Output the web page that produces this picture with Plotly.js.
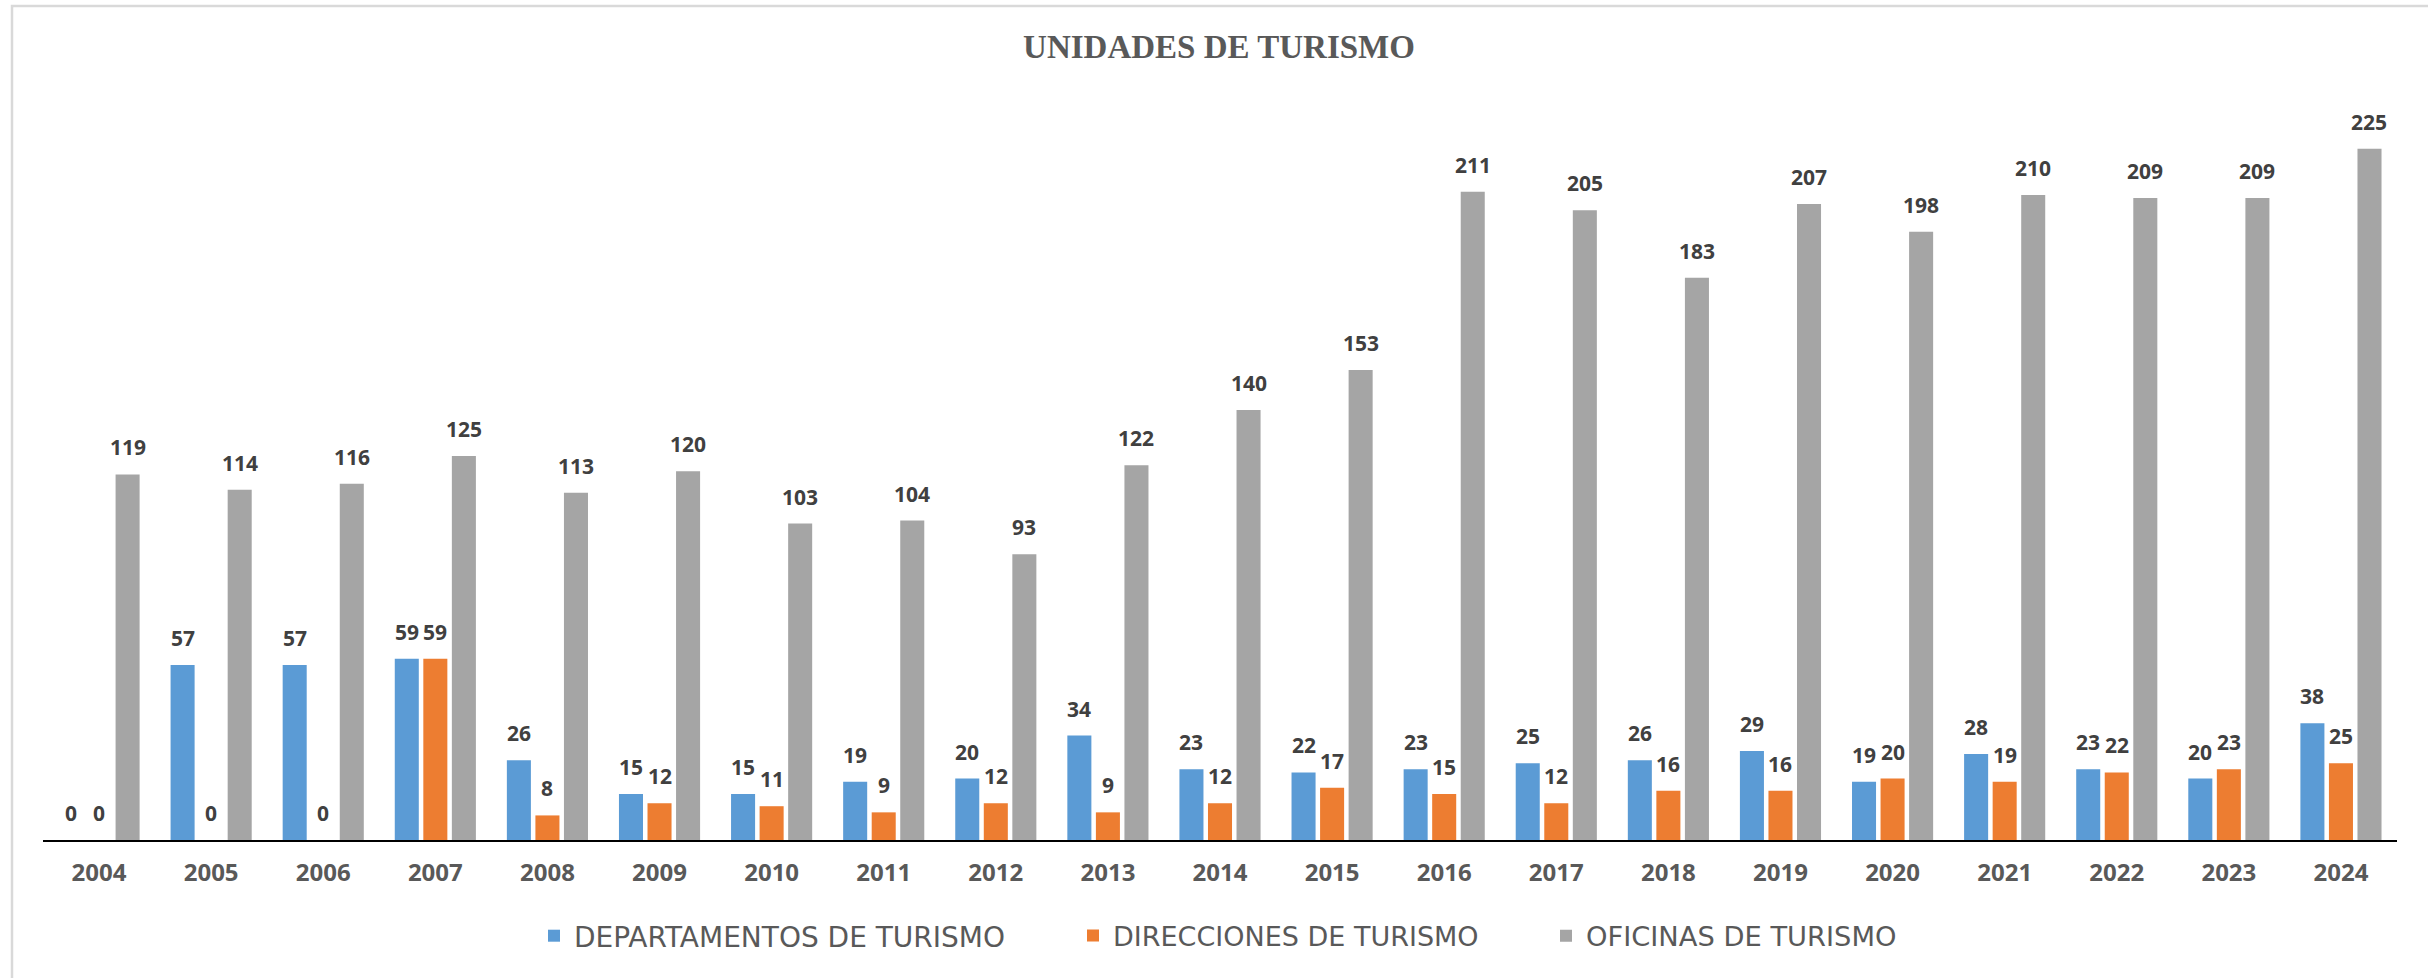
<!DOCTYPE html>
<html>
<head>
<meta charset="utf-8">
<script src="https://cdn.plot.ly/plotly-3.0.1.min.js"></script>
<style>
  html, body { margin: 0; padding: 0; background: #ffffff; }
  #chart { width: 2428px; height: 978px; }
</style>
</head>
<body>
<div id="chart"></div>
<script>
// ---- data ----
const years = ["2004","2005","2006","2007","2008","2009","2010","2011","2012","2013","2014",
               "2015","2016","2017","2018","2019","2020","2021","2022","2023","2024"];
const departamentos = [0,57,57,59,26,15,15,19,20,34,23,22,23,25,26,29,19,28,23,20,38];
const direcciones  = [0,0,0,59,8,12,11,9,12,9,12,17,15,12,16,16,20,19,22,23,25];
const oficinas     = [119,114,116,125,113,120,103,104,93,122,140,153,211,205,183,207,198,210,209,209,225];
const seriesNames  = ["DEPARTAMENTOS DE TURISMO","DIRECCIONES DE TURISMO","OFICINAS DE TURISMO"];
const seriesColors = ["#5B9BD5","#ED7D31","#A5A5A5"];
const chartTitle   = "UNIDADES DE TURISMO";

// ---- layout constants ----
const W = 2428, H = 978;
const M = {l: 43, r: 31, t: 72, b: 138};
const plotW = W - M.l - M.r;
const plotH = H - M.t - M.b;
const BARGAP = 0.236, GROUPGAP = 0.158;
const catW = plotW / years.length;
const slot = catW * (1 - BARGAP) / 3;
const legendIds = ["legend", "legend2", "legend3"];
const legendLeftPx = [534, 1073, 1546];
const legendFontSize = [28, 27, 27.3];

const allSeries = [departamentos, direcciones, oficinas];
const traces = allSeries.map((vals, k) => ({
  type: "bar",
  name: seriesNames[k],
  x: years,
  y: vals,
  marker: {color: seriesColors[k]},
  legend: legendIds[k],
  hoverinfo: "skip"
}));

const labelFont = {family: "Open Sans", size: 21, color: "#404040", weight: 700};
const annotations = [];
allSeries.forEach((vals, k) => {
  vals.forEach((v, i) => {
    annotations.push({
      x: i, y: v, xref: "x", yref: "y",   // category serial number i == years[i]
      text: "<b>" + v + "</b>",
      showarrow: false,
      xanchor: "center", yanchor: "bottom",
      xshift: (k - 1) * slot,
      yshift: 11,
      font: labelFont
    });
  });
});

const px2px = x => (x - M.l) / plotW;
const py2py = y => (H - M.b - y) / plotH;

const layout = {
  width: W, height: H,
  margin: M,
  paper_bgcolor: "#ffffff",
  plot_bgcolor: "#ffffff",
  barmode: "group",
  bargap: BARGAP,
  bargroupgap: GROUPGAP,
  title: {
    text: "<b>" + chartTitle + "</b>",
    font: {family: "Liberation Serif", size: 33, color: "#595959"},
    x: 1219 / W, xanchor: "center",
    y: 1 - 46 / H, yanchor: "middle", yref: "container"
  },
  xaxis: {
    type: "category",
    range: [-0.5, years.length - 0.5],
    autorange: false,
    showgrid: false,
    zeroline: false,
    showline: true,
    linecolor: "#000000",
    linewidth: 2,
    ticks: "",
    ticklabelstandoff: 10,
    tickfont: {family: "Open Sans", size: 24, color: "#595959", weight: 700}
  },
  yaxis: {
    range: [0, 250],
    autorange: false,
    visible: false,
    showgrid: false,
    zeroline: false
  },
  showlegend: true,
  annotations: annotations,
  shapes: [{
    type: "rect", xref: "paper", yref: "paper",
    x0: px2px(12), x1: px2px(2450),
    y0: py2py(995), y1: py2py(6),
    line: {color: "#D9D9D9", width: 2.5},
    fillcolor: "rgba(0,0,0,0)",
    layer: "below"
  }]
};
legendIds.forEach((id, k) => {
  layout[id] = {
    orientation: "h",
    x: px2px(legendLeftPx[k]), xanchor: "left",
    y: py2py(936), yanchor: "middle",
    font: {family: "DejaVu Sans", size: legendFontSize[k], color: "#595959"},
    bgcolor: "rgba(0,0,0,0)"
  };
});

Plotly.newPlot("chart", traces, layout, {staticPlot: true, displayModeBar: false});
</script>
</body>
</html>
